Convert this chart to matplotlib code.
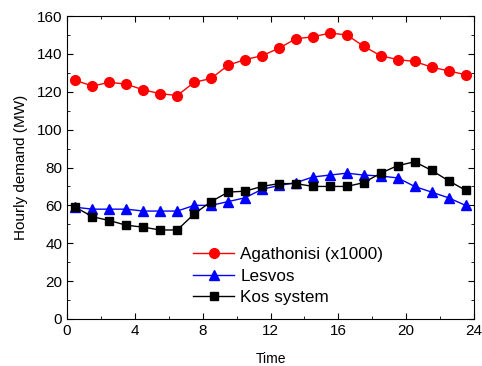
import numpy as np
import matplotlib
matplotlib.use("Agg")
import matplotlib.pyplot as plt
from matplotlib.ticker import MultipleLocator

plt.rcParams['font.family'] = ['Liberation Sans', 'DejaVu Sans']

hours = [h + 0.5 for h in range(24)]
agathonisi = [126, 123, 125, 124, 121, 119, 118, 125, 127, 134, 137, 139,
              143, 148, 149, 151, 150, 144, 139, 137, 136, 133, 131, 129]
lesvos = [59, 58, 58, 58, 57, 57, 57, 60, 60, 62, 64, 68.5,
          70.5, 72, 75, 76, 77, 76, 75.5, 74.5, 70, 67, 64, 60]
kos = [59, 54, 52, 49.5, 48.5, 47, 47, 55.5, 62, 67, 67.5, 70,
       71.5, 71.5, 70, 70, 70, 72, 77, 81, 83, 78.5, 73, 68]

fig = plt.figure(figsize=(4.82, 3.66), dpi=100)
ax = fig.add_axes([67 / 482, 1 - 319 / 366, (474 - 67) / 482, (319 - 16) / 366])

ax.plot(hours, agathonisi, color='red', marker='o', markersize=7, lw=1,
        label='Agathonisi (x1000)')
ax.plot(hours, lesvos, color='blue', marker='^', markersize=7, lw=1,
        label='Lesvos')
ax.plot(hours, kos, color='black', marker='s', markersize=6, lw=1,
        label='Kos system')

ax.set_xlim(0, 24)
ax.set_ylim(0, 160)
ax.xaxis.set_major_locator(MultipleLocator(4))
ax.xaxis.set_minor_locator(MultipleLocator(2))
ax.yaxis.set_major_locator(MultipleLocator(20))
ax.yaxis.set_minor_locator(MultipleLocator(10))
ax.tick_params(which='both', direction='in', top=True, right=True, labelsize=11)
ax.tick_params(which='major', length=4)
ax.tick_params(which='minor', length=2)

ax.set_xlabel('Time', fontsize=10, labelpad=10)
ax.set_ylabel('Hourly demand (MW)', fontsize=11, labelpad=6)

ax.legend(loc='lower left', bbox_to_anchor=(0.31, 0.045), frameon=False,
          fontsize=12.3, handlelength=2.4, handletextpad=0.35, labelspacing=0.4,
          borderaxespad=0, borderpad=0)

fig.savefig('out.png', dpi=100)
